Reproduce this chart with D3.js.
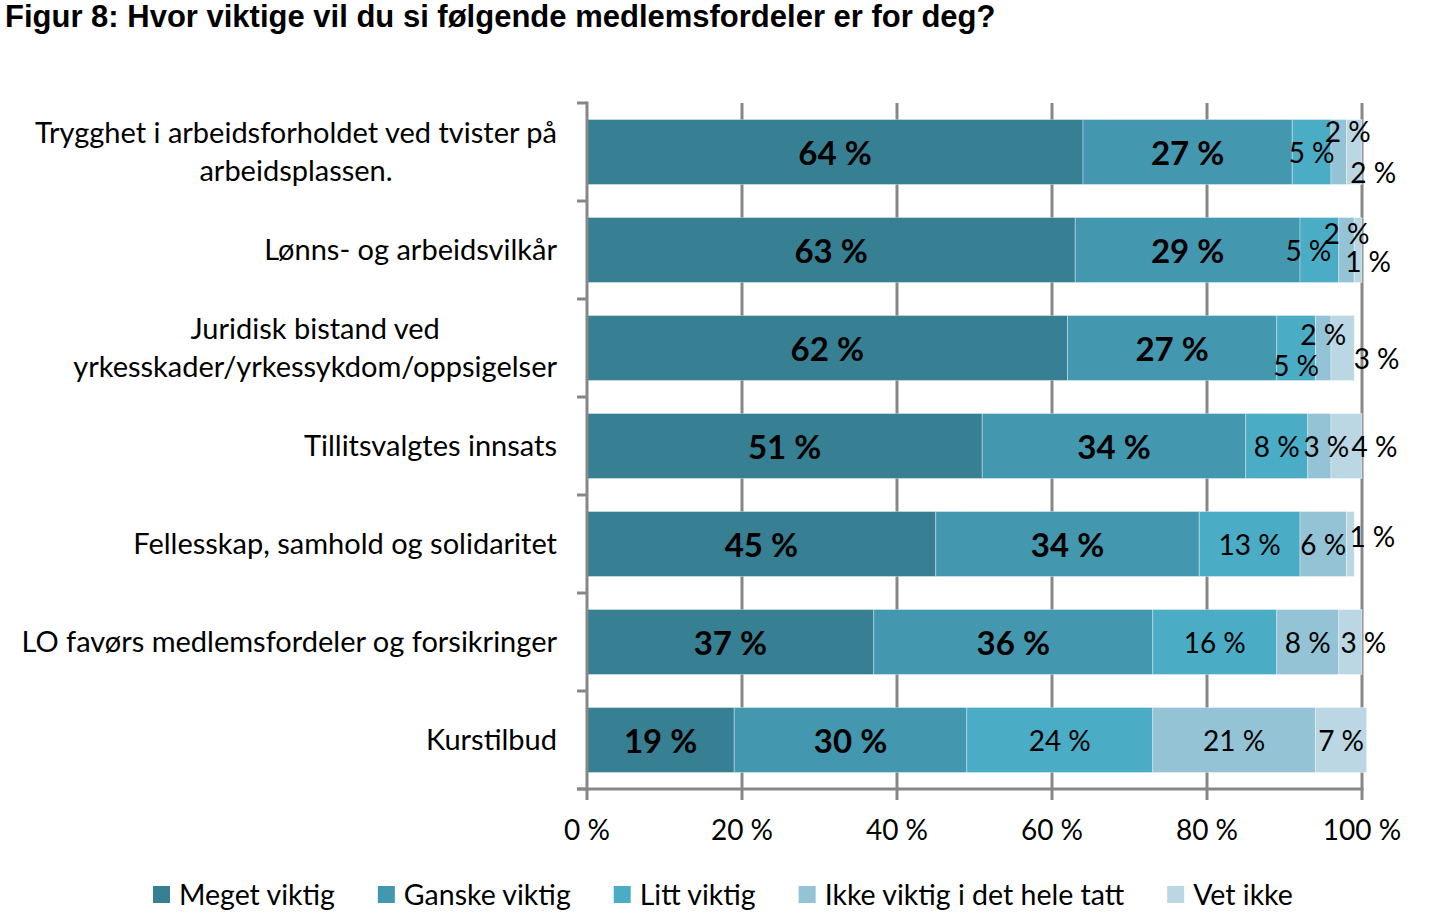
<!DOCTYPE html>
<html>
<head>
<meta charset="utf-8">
<script src="https://cdn.jsdelivr.net/npm/d3@7"></script>
<style>
  html, body { margin: 0; padding: 0; background: #fff; }
  svg { display: block; }
</style>
</head>
<body>
<svg id="chart" width="1442" height="915"></svg>
<script>
// ---------- DATA ----------
const title = "Figur 8: Hvor viktige vil du si følgende medlemsfordeler er for deg?";
const categories = [
  "Trygghet i arbeidsforholdet ved tvister på arbeidsplassen.",
  "Lønns- og arbeidsvilkår",
  "Juridisk bistand ved yrkesskader/yrkessykdom/oppsigelser",
  "Tillitsvalgtes innsats",
  "Fellesskap, samhold og solidaritet",
  "LO favørs medlemsfordeler og forsikringer",
  "Kurstilbud"
];
const seriesNames = ["Meget viktig", "Ganske viktig", "Litt viktig", "Ikke viktig i det hele tatt", "Vet ikke"];
const megetViktig  = [64, 63, 62, 51, 45, 37, 19];
const ganskeViktig = [27, 29, 27, 34, 34, 36, 30];
const littViktig   = [5, 5, 5, 8, 13, 16, 24];
const ikkeViktig   = [2, 2, 2, 3, 6, 8, 21];
const vetIkke      = [2, 1, 3, 4, 1, 3, 6.6];
const xTicks = [0, 20, 40, 60, 80, 100];
const xTickLabels = ["0 %", "20 %", "40 %", "60 %", "80 %", "100 %"];

// ---------- STYLE ----------
const colors = ["#377F92", "#4397AF", "#4BACC6", "#93C3D5", "#BAD7E3"];
const boldSeries = [true, true, false, false, false];
const labelFont = "Lato, 'Open Sans', sans-serif";
// manual nudges of crowded data labels: "row-series": [dx, dy]
const labelNudges = {
  "0-3": [9, -21], "0-4": [19, 20],
  "1-2": [-11, 0], "1-3": [0, -17], "1-4": [10, 11],
  "2-2": [0, 17], "2-3": [0, -14], "2-4": [34, 10],
  "3-3": [7, 0], "3-4": [28, 0],
  "4-4": [22, -8],
  "5-4": [13, 0]
};

const svg = d3.select("#chart");
const axisColor = "#878787";

const rows = categories.map((c, i) => ({
  cat: c,
  s0: megetViktig[i], s1: ganskeViktig[i], s2: littViktig[i], s3: ikkeViktig[i], s4: vetIkke[i]
}));
const keys = ["s0", "s1", "s2", "s3", "s4"];
const stacked = d3.stack().keys(keys)(rows);

const x = d3.scaleLinear().domain([0, 100]).range([587, 1362]);
const y = d3.scaleBand().domain(categories).range([103, 789])
  .paddingInner(0.337).paddingOuter(0.1685);

// title
svg.append("text")
  .attr("x", 5).attr("y", 27)
  .attr("font-family", "'Liberation Sans', Arial, sans-serif")
  .attr("font-weight", "bold")
  .attr("font-size", 31)
  .attr("fill", "#000")
  .text(title);

// gridlines (behind bars)
svg.append("g").selectAll("line")
  .data(xTicks.filter(d => d > 0))
  .join("line")
  .attr("x1", d => x(d)).attr("x2", d => x(d))
  .attr("y1", 103).attr("y2", 789)
  .attr("stroke", axisColor).attr("stroke-width", 3);

// bars
const gBars = svg.append("g");
stacked.forEach((layer, si) => {
  gBars.append("g").selectAll("rect")
    .data(layer)
    .join("rect")
    .attr("x", d => x(d[0]))
    .attr("y", d => y(d.data.cat))
    .attr("width", d => x(d[1]) - x(d[0]))
    .attr("height", y.bandwidth())
    .attr("fill", colors[si])
    .attr("stroke", "rgba(255,255,255,0.35)")
    .attr("stroke-width", 1);
});

// y axis line + ticks at band boundaries
const gAxis = svg.append("g");
gAxis.append("line")
  .attr("x1", 587).attr("x2", 587).attr("y1", 101.5).attr("y2", 791)
  .attr("stroke", axisColor).attr("stroke-width", 3);
const boundaries = categories.map(c => y(c) - y.step() * y.paddingInner() / 2).concat([789]);
gAxis.selectAll(".ytick").data(boundaries).join("line")
  .attr("class", "ytick")
  .attr("x1", 577).attr("x2", 587)
  .attr("y1", d => d).attr("y2", d => d)
  .attr("stroke", axisColor).attr("stroke-width", 3);

// x axis line + ticks
gAxis.append("line")
  .attr("x1", 577).attr("x2", 1363.5).attr("y1", 789).attr("y2", 789)
  .attr("stroke", axisColor).attr("stroke-width", 3);
gAxis.selectAll(".xtick").data(xTicks).join("line")
  .attr("class", "xtick")
  .attr("x1", d => x(d)).attr("x2", d => x(d))
  .attr("y1", 789).attr("y2", 800)
  .attr("stroke", axisColor).attr("stroke-width", 3);
gAxis.selectAll(".xlab").data(xTicks).join("text")
  .attr("class", "xlab")
  .attr("x", d => x(d)).attr("y", 840)
  .attr("text-anchor", "middle")
  .attr("font-family", labelFont)
  .attr("font-size", 28)
  .attr("fill", "#000")
  .text((d, i) => xTickLabels[i]);

// category labels (wrapped, block right-aligned at 557, lines centered)
const catFontSize = 29;
const maxLabelWidth = 545;
const gCat = svg.append("g")
  .attr("font-family", labelFont)
  .attr("font-size", catFontSize)
  .attr("fill", "#000");
categories.forEach(c => {
  const words = c.split(" ");
  const probe = gCat.append("text");
  const lines = [];
  let cur = [];
  words.forEach(w => {
    const trial = cur.concat([w]).join(" ");
    probe.text(trial);
    if (probe.node().getComputedTextLength() > maxLabelWidth && cur.length) {
      lines.push(cur.join(" "));
      cur = [w];
    } else {
      cur.push(w);
    }
  });
  lines.push(cur.join(" "));
  let maxW = 0;
  lines.forEach(l => { probe.text(l); maxW = Math.max(maxW, probe.node().getComputedTextLength()); });
  probe.remove();
  const cx = 557 - maxW / 2;
  const cy = y(c) + y.bandwidth() / 2;
  const lh = 38;
  lines.forEach((l, li) => {
    gCat.append("text")
      .attr("x", cx)
      .attr("y", cy + (li - (lines.length - 1) / 2) * lh)
      .attr("dy", "0.36em")
      .attr("text-anchor", "middle")
      .text(l);
  });
});

// data labels
const fmt = v => d3.format(".0f")(v) + " %";
const gLab = svg.append("g").attr("font-family", labelFont).attr("fill", "#000");
stacked.forEach((layer, si) => {
  layer.forEach((d, ri) => {
    const nudge = labelNudges[ri + "-" + si] || [0, 0];
    gLab.append("text")
      .attr("x", (x(d[0]) + x(d[1])) / 2 + nudge[0])
      .attr("y", y(d.data.cat) + y.bandwidth() / 2 + nudge[1])
      .attr("dy", "0.4em")
      .attr("text-anchor", "middle")
      .attr("font-size", boldSeries[si] ? 33 : 28)
      .attr("font-weight", boldSeries[si] ? "bold" : "normal")
      .text(fmt(d[1] - d[0]));
  });
});

// legend
const gLeg = svg.append("g").attr("font-family", labelFont).attr("font-size", 28.5).attr("fill", "#000");
let lx = 153;
seriesNames.forEach((n, i) => {
  gLeg.append("rect")
    .attr("x", lx).attr("y", 886).attr("width", 17).attr("height", 17)
    .attr("fill", colors[i]);
  const t = gLeg.append("text")
    .attr("x", lx + 26).attr("y", 895).attr("dy", "0.36em")
    .text(n);
  lx += 26 + t.node().getComputedTextLength() + 43;
});
</script>
</body>
</html>
